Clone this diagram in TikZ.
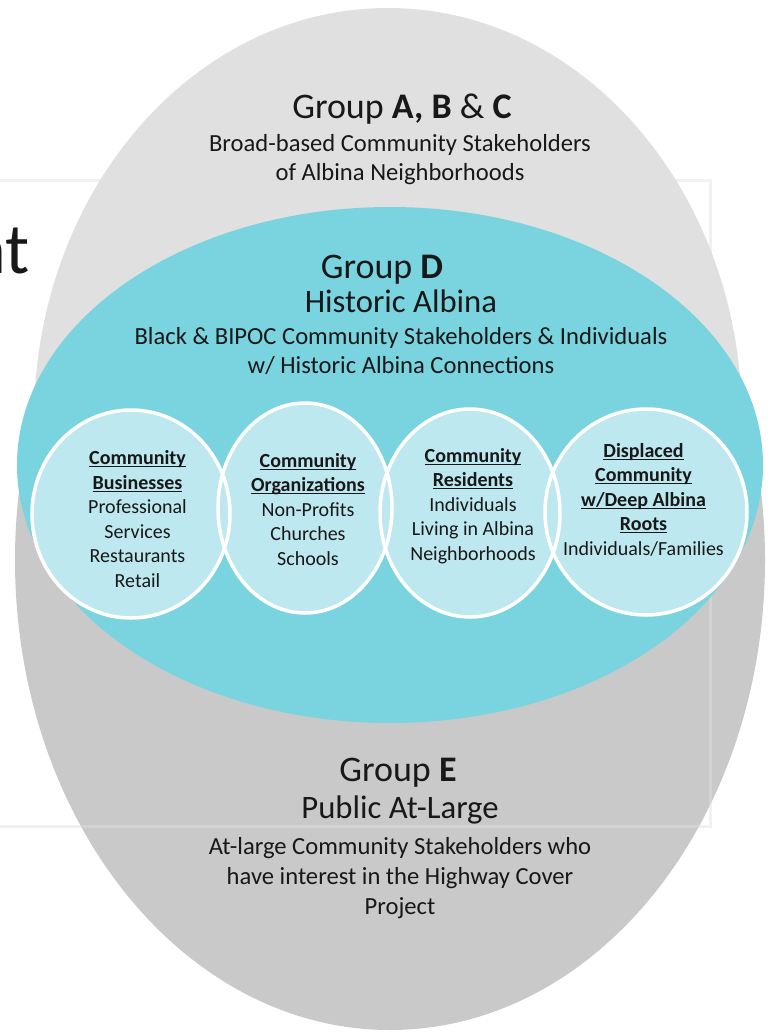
\documentclass[tikz,border=0pt]{standalone}
\usepackage{fontspec}
\usetikzlibrary{shapes.geometric}
\setmainfont{Carlito}
\definecolor{lgray}{RGB}{224,224,224}
\definecolor{dgray}{RGB}{201,201,201}
\definecolor{tealD}{RGB}{122,212,224}
\definecolor{cfill}{RGB}{190,232,239}
\definecolor{txt}{RGB}{24,24,24}
\newcommand\myul[1]{\setbox0\hbox{#1}\rlap{\rule[-2.8pt]{\wd0}{1.3pt}}\box0}
\begin{document}
\begin{tikzpicture}[x=1pt,y=-1pt,
  every node/.style={inner sep=0pt, text=txt},
  circfill/.style={ellipse, fill=cfill},
  circline/.style={ellipse, draw=white, line width=3.5pt},
  big/.style={font=\fontsize{36}{40}\selectfont, anchor=base},
  mid/.style={font=\fontsize{32.7}{36}\selectfont, anchor=base},
  sub/.style={font=\fontsize{24.6}{29}\selectfont, align=center, anchor=base},
  ctext/.style={font=\fontsize{20}{24.5}\selectfont, align=center, anchor=base}]
\useasboundingbox (0,0) rectangle (772,1034);
\fill[white] (0,0) rectangle (772,1034);
% outer shapes
\fill[dgray] (390,560) ellipse [x radius=375, y radius=470];
\begin{scope}
  \clip (0,0) rectangle (772,520);
  \fill[lgray] (388,420) ellipse [x radius=354, y radius=412];
\end{scope}
\draw[line width=3pt, draw=lgray, draw opacity=.45] (-5,180) rectangle (710,826);
\fill[tealD] (390,465) ellipse [x radius=373, y radius=258];
% circles
\node[circfill, minimum width=198pt, minimum height=208pt] (c1) at (131,514) {};
\node[circfill, minimum width=174pt, minimum height=210pt] (c2) at (305,508) {};
\node[circfill, minimum width=180pt, minimum height=208pt] (c3) at (470,513) {};
\node[circfill, minimum width=202pt, minimum height=206pt] (c4) at (646,512) {};
\node[circline, minimum width=198pt, minimum height=208pt] (c1b) at (c1) {};
\node[circline, minimum width=174pt, minimum height=210pt] (c2b) at (c2) {};
\node[circline, minimum width=180pt, minimum height=208pt] (c3b) at (c3) {};
\node[circline, minimum width=202pt, minimum height=206pt] (c4b) at (c4) {};
% left cut-off text
\node[font=\fontsize{72}{80}\selectfont, anchor=base east] (nt) at (30,273) {nt};
% group A B C
\node[big] (gabc) at (402,118) {Group \textbf{A,} \textbf{B} \& \textbf{C}};
\node[sub] (gabct) at (400,180) {Broad-based Community Stakeholders\\of Albina Neighborhoods};
% group D
\node[big] (gd) at (382,278) {Group \textbf{D}};
\node[mid] (hist) at (401,312) {Historic Albina};
\node[sub] (gdt) at (401,373) {Black \& BIPOC Community Stakeholders \& Individuals\\w/ Historic Albina Connections};
% circle texts
\node[ctext] (t1) at (137.5,587) {\myul{\textbf{Community}}\\\myul{\textbf{Businesses}}\\Professional\\Services\\Restaurants\\Retail};
\node[ctext] (t2) at (308,565) {\myul{\textbf{Community}}\\\myul{\textbf{Organizations}}\\Non-Profits\\Churches\\Schools};
\node[ctext] (t3) at (473,560) {\myul{\textbf{Community}}\\\myul{\textbf{Residents}}\\Individuals\\Living in Albina\\Neighborhoods};
\node[ctext] (t4) at (643.5,555) {\myul{\textbf{Displaced}}\\\myul{\textbf{Community}}\\\myul{\textbf{w/Deep Albina}}\\\myul{\textbf{Roots}}\\Individuals/Families};
% group E
\node[big] (ge) at (398,781) {Group \textbf{E}};
\node[mid] (pub) at (400,818) {Public At-Large};
\node[sub, font=\fontsize{24.6}{30}\selectfont] (get) at (400,914) {At-large Community Stakeholders who\\have interest in the Highway Cover\\Project};
\end{tikzpicture}
\end{document}
